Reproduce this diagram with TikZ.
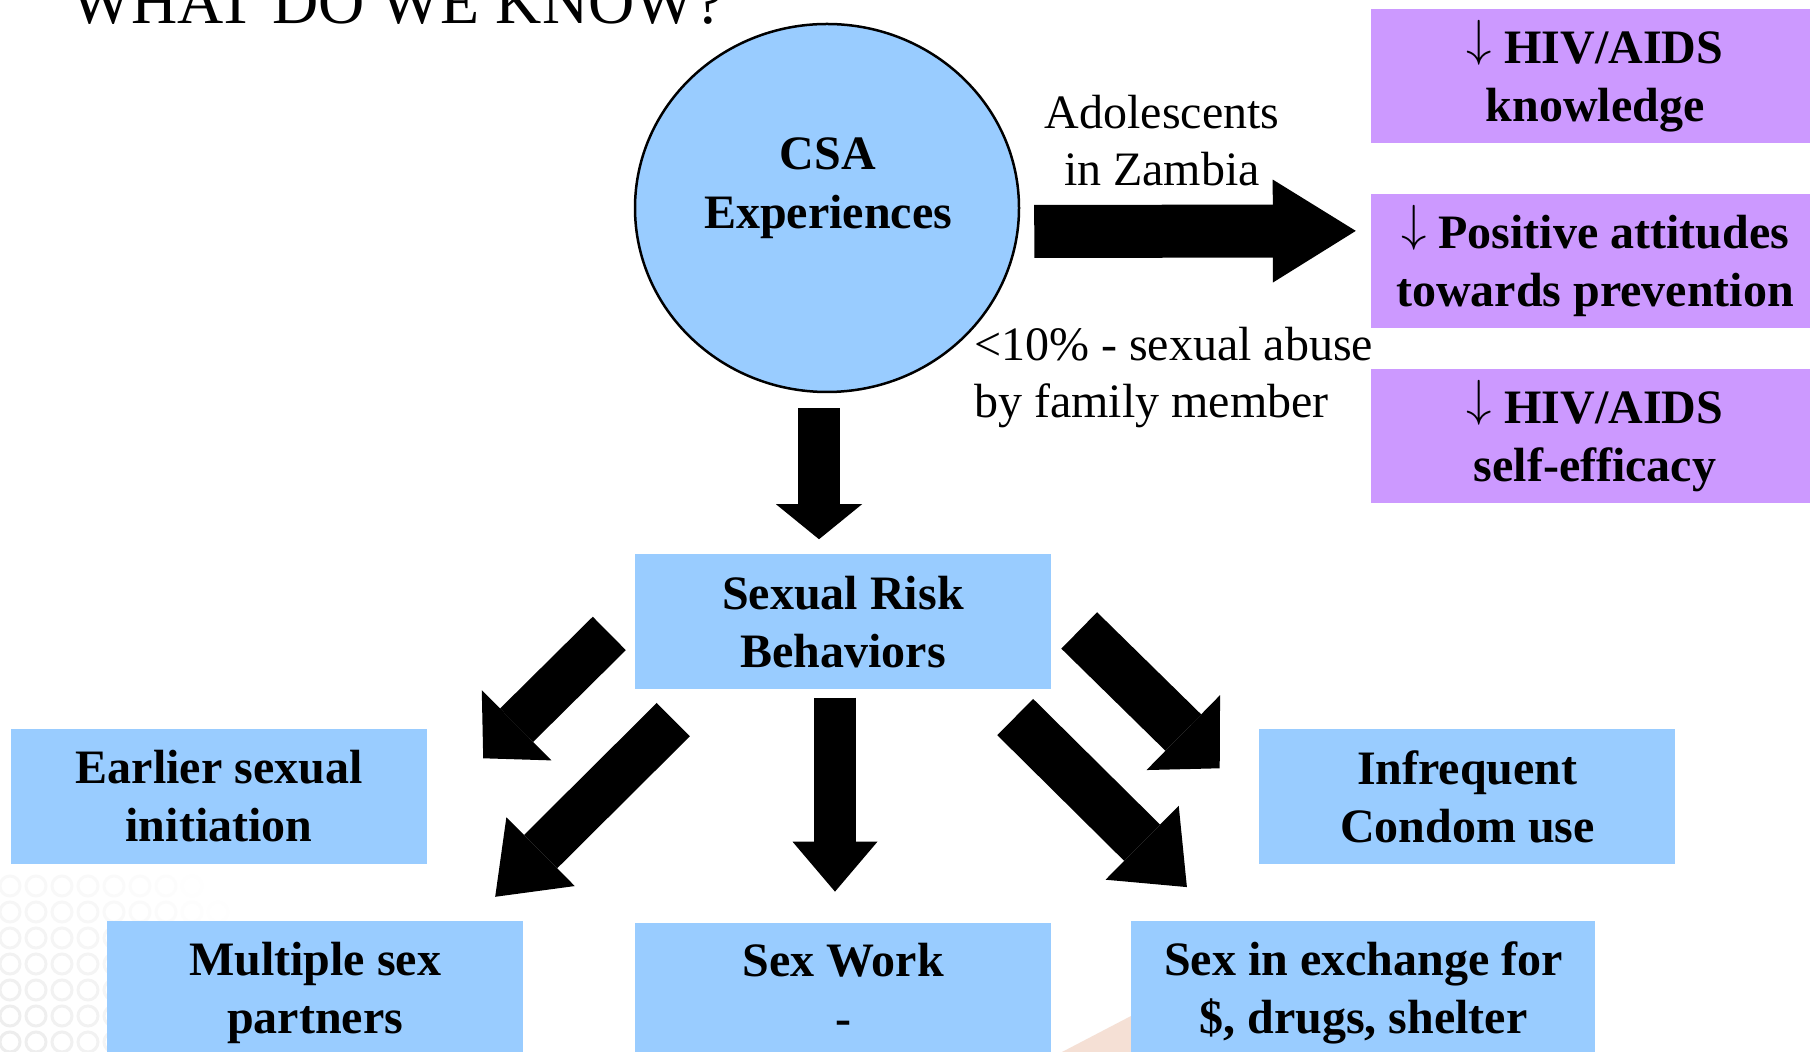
\documentclass[tikz,border=0pt]{standalone}
\usepackage{fontspec}
\setmainfont{Liberation Serif}
\usepackage{graphicx}
\usepackage{xcolor}
\usetikzlibrary{shapes.geometric, arrows.meta, positioning, calc}
\definecolor{boxblue}{HTML}{99CCFF}
\definecolor{boxpurple}{HTML}{CC99FF}
\definecolor{warm}{HTML}{E9BCA4}
\newcommand{\lessarrow}{\raisebox{8.2pt}{\scalebox{5.07}{\fontsize{10}{12}\selectfont$\downarrow$}}\rule{0pt}{43pt}}

\begin{document}
\begin{tikzpicture}[x=1pt, y=1pt]
 % We define the styles for the boxes, the texts and the fat arrows
 \tikzset{
box/.style = {rectangle, fill=boxblue, inner sep=0pt, minimum width=416pt, minimum height=135pt, align=center, font=\fontsize{48}{58}\selectfont\bfseries},
effect/.style = {box, fill=boxpurple, minimum width=448pt, minimum height=134pt},
note/.style = {inner sep=0pt, align=center, font=\fontsize{48}{57}\selectfont},
fat/.style n args = {3}{draw=black, line width=#1, -{Triangle[width=#2, length=#3, line width=0pt]}},
}
 \fill[white] (0,0) rectangle (1810,1052);
 \useasboundingbox (0,0) rectangle (1810,1052);

 % faint slide background
 \foreach \i in {0,...,9}
 \foreach \j in {0,...,6} {
 \pgfmathsetmacro\fade{max(0,1-26*sqrt(\i*\i+\j*\j)/250)}
 \draw[gray!14, line width=3pt, opacity=\fade] (\i*26+10,\j*26+10) circle (10);
 }
 \fill[warm, opacity=0.45] (1062,0) -- (1131,0) -- (1131,36) -- cycle;

 % Title
 \node[anchor=base west, inner sep=0pt, font=\fontsize{64}{70}\selectfont] (title) at (71,1028) {WHAT DO WE KNOW?};

 % CSA circle
 \node[ellipse, draw, line width=2.5pt, fill=boxblue, minimum width=384pt, minimum height=368pt] (csa) at (827,844) {};
 \node[note, font=\fontsize{48}{59}\selectfont\bfseries] (csalabel) at ([xshift=1pt,yshift=20pt]csa.center) {CSA\\Experiences};

 % Effects for adolescents in Zambia
 \node[effect] (know) at (1595,975.5) {\lessarrow{} HIV/AIDS\\knowledge};
 \node[effect, below=50pt of know] (att) {\lessarrow{} Positive attitudes\\towards prevention};
 \node[effect, below=41pt of att] (eff) {\lessarrow{} HIV/AIDS\\self-efficacy};
 \node[note] (adol) at (1162,911) {Adolescents\\in Zambia};
 \node[note, align=left, anchor=west] (abuse) at (974,674) {<10\% - sexual abuse\\by family member};

 % Sexual risk behaviors
 \node[box, below=161pt of csa, xshift=16pt] (risk) {Sexual Risk\\Behaviors};
 \node[box] (earlier) at (219,255.5) {Earlier sexual\\initiation};
 \node[box, right=832pt of earlier] (infreq) {Infrequent\\Condom use};
 \node[box, minimum height=143pt] (multiple) at (315,59.5) {Multiple sex\\partners};
 \node[box, minimum height=143pt, below=233pt of risk] (work) {Sex Work\\-\vphantom{p}};
 \node[box, minimum height=143pt, minimum width=464pt, right=608pt of multiple] (exchange) {Sex in exchange for\\\$, drugs, shelter};

 % Fat arrows
 \draw[fat={42pt}{86pt}{35pt}] ([xshift=-8pt,yshift=-15pt]csa.south) -- ([xshift=-24pt,yshift=15pt]risk.north);
 \draw[fat={53pt}{103pt}{83pt}] ([xshift=14pt,yshift=-23.5pt]csa.east) -- ([xshift=-15pt,yshift=30pt]att.west);
 \draw[fat={42pt}{85pt}{50pt}] ([xshift=-8pt,yshift=-8pt]risk.south) -- ([xshift=-8pt,yshift=31pt]work.north);
 \draw[fat={47pt}{99pt}{47pt}] ([xshift=-25.5pt,yshift=-11.5pt]risk.west) -- ([xshift=56pt,yshift=-29.5pt]earlier.north east);
 \draw[fat={47pt}{97pt}{64pt}] ([xshift=38.5pt,yshift=-30pt]risk.south west) -- ([xshift=-28pt,yshift=24pt]multiple.north east);
 \draw[fat={51pt}{105pt}{51pt}] ([xshift=28pt,yshift=-8.5pt]risk.east) -- ([xshift=-39.5pt,yshift=-39.5pt]infreq.north west);
 \draw[fat={51pt}{104pt}{63pt}] ([xshift=-36pt,yshift=-27.4pt]risk.south east) -- ([xshift=55.7pt,yshift=33.7pt]exchange.north west);

\end{tikzpicture}
\end{document}
